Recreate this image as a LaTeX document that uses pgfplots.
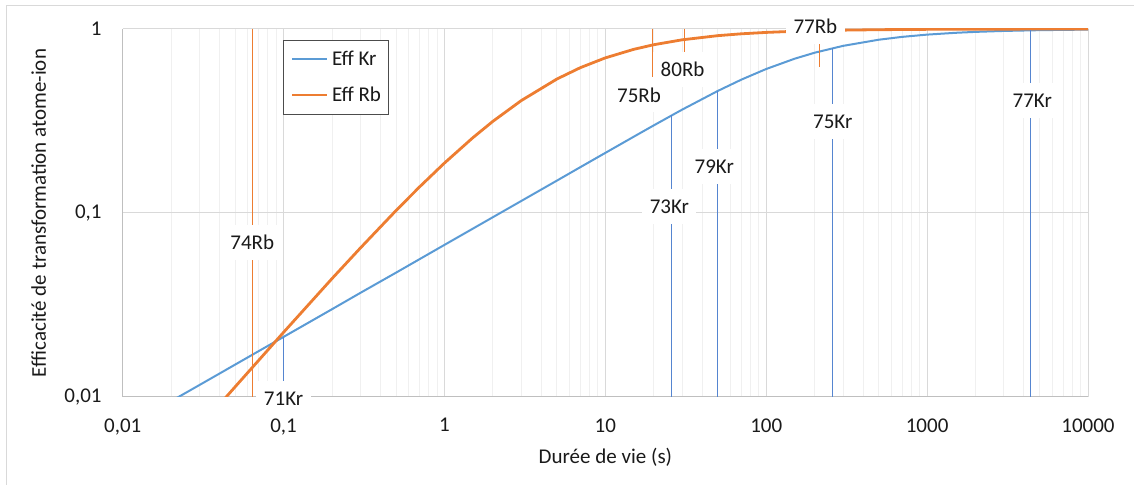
\documentclass[border=0pt]{standalone}
\usepackage{pgfplots}
\pgfplotsset{compat=1.18}
\usepackage{fontspec}
\setmainfont{Carlito}
\definecolor{kr}{HTML}{5B9BD5}
\definecolor{rb}{HTML}{ED7D31}
\definecolor{krline}{HTML}{5585D0}
\definecolor{gridmaj}{HTML}{D9D9D9}
\definecolor{gridmin}{HTML}{F0F0F0}
\definecolor{axline}{HTML}{BFBFBF}
\definecolor{txt}{HTML}{1A1A1A}
\tikzset{lbl/.style={fill=white, inner xsep=3.75pt, inner ysep=0pt, minimum height=17.5pt, text=txt}}
\begin{document}
\begin{tikzpicture}[x=1pt,y=1pt,font=\fontsize{10.5}{12.6}\selectfont]
\useasboundingbox (0,0) rectangle (567,242.5);
\draw[color=gridmaj, line width=0.5pt] (3,-10) -- (3,239.5) -- (580,239.5);
\begin{axis}[
  at={(61.35pt,44pt)}, anchor=south west,
  width=482.65pt, height=184pt, scale only axis,
  xmode=log, ymode=log,
  xmin=0.01, xmax=10000, ymin=0.01, ymax=1,
  xtick={0.01,0.1,1,10,100,1000,10000},
  xticklabels={{0,01},{0,1},1,10,100,1000,10000},
  minor xtick={0.02,0.03,0.04,0.05,0.06,0.07,0.08,0.09,
    0.2,0.3,0.4,0.5,0.6,0.7,0.8,0.9,
    2,3,4,5,6,7,8,9,20,30,40,50,60,70,80,90,
    200,300,400,500,600,700,800,900,
    2000,3000,4000,5000,6000,7000,8000,9000},
  ytick={0.01,0.1,1},
  yticklabels={{0,01},{0,1},1},
  xmajorgrids, xminorgrids, ymajorgrids,
  major grid style={gridmaj, line width=0.5pt},
  minor grid style={gridmin, line width=0.5pt},
  major tick length=0pt, minor tick length=0pt,
  axis lines*=left,
  axis line style={axline, line width=0.5pt},
  tick label style={text=txt, font=\fontsize{10.5}{12.6}\selectfont},
  xticklabel style={inner sep=0pt, anchor=north, yshift=-10.5pt},
  yticklabel style={inner sep=0pt, anchor=east, xshift=-10.35pt},
  clip mode=individual,
]
% Eff Kr
\addplot[kr, line width=1pt] coordinates {
(0.01,0.00671) (0.02,0.00949) (0.03,0.01162) (0.05,0.0150) (0.1,0.02122)
(0.2,0.0300) (0.3,0.0368) (0.5,0.0474) (1,0.0671) (2,0.0949) (3,0.1162)
(5,0.1500) (7,0.1776) (10,0.2122) (15,0.2597) (20,0.2994) (30,0.3645)
(50,0.4607) (70,0.5305) (100,0.6063) (150,0.6893) (200,0.7433) (300,0.8095)
(500,0.8744) (700,0.9062) (1000,0.9321) (1500,0.9534) (2000,0.9646)
(3000,0.9760) (5000,0.9855) (10000,0.9926)};
% Eff Rb
\addplot[rb, line width=1.4pt] coordinates {
(0.01,0.0023) (0.02,0.0046) (0.03,0.00685) (0.05,0.01136) (0.1,0.02247)
(0.2,0.0440) (0.3,0.0645) (0.5,0.1031) (0.7,0.1386) (1,0.1869) (1.5,0.2564)
(2,0.3150) (3,0.4082) (5,0.5348) (7,0.6167) (10,0.6969) (15,0.7752)
(20,0.8214) (30,0.8734) (50,0.9200) (70,0.9415) (100,0.9583) (150,0.9718)
(200,0.9787) (300,0.9857) (500,0.9913) (1000,0.9957) (2000,0.9978)
(5000,0.9991) (10000,0.9996)};
% isotope markers
\addplot[krline, line width=0.6pt] coordinates {(0.1,0.0211) (0.1,0.01)};
\addplot[krline, line width=0.6pt] coordinates {(25.8,0.341) (25.8,0.01)};
\addplot[krline, line width=0.6pt] coordinates {(49.8,0.460) (49.8,0.01)};
\addplot[krline, line width=0.6pt] coordinates {(259,0.789) (259,0.01)};
\addplot[krline, line width=0.6pt] coordinates {(4415,0.984) (4415,0.01)};
\addplot[rb, line width=0.6pt] coordinates {(0.0639,1) (0.0639,0.01)};
\addplot[rb, line width=0.6pt] coordinates {(19.6,1) (19.6,0.45)};
\addplot[rb, line width=0.6pt] coordinates {(30.9,1) (30.9,0.6)};
\addplot[rb, line width=0.6pt] coordinates {(215,1) (215,0.62)};
% labels
\node[lbl] at (axis cs:0.0639,0.0690) {74Rb};
\node[lbl] at (axis cs:0.1,0.0098) {71Kr};
\node[lbl] at (axis cs:25,0.1078) {73Kr};
\node[lbl] at (axis cs:47.5,0.178) {79Kr};
\node[lbl] at (axis cs:259,0.3134) {75Kr};
\node[lbl] at (axis cs:4500,0.4076) {77Kr};
\node[lbl] at (axis cs:16.2,0.438) {75Rb};
\node[lbl] at (axis cs:30.2,0.604) {80Rb};
\node[lbl] at (axis cs:202,1.038) {77Rb};
\end{axis}
% axis titles
\node[rotate=90, anchor=base, text=txt] at (23,136) {Efficacité de transformation atome-ion};
\node[anchor=base, text=txt] at (302.7,10.85) {Durée de vie (s)};
% legend
\draw[black!70, line width=0.5pt, fill=white] (141.65,185.35) rectangle (194.35,222.15);
\draw[kr, line width=1pt] (146,213) -- (163.5,213);
\node[anchor=base west, inner sep=0pt, text=txt] at (165.8,209.6) {Eff Kr};
\draw[rb, line width=1.4pt] (146,195) -- (163.5,195);
\node[anchor=base west, inner sep=0pt, text=txt] at (165.8,191.6) {Eff Rb};
\end{tikzpicture}
\end{document}
